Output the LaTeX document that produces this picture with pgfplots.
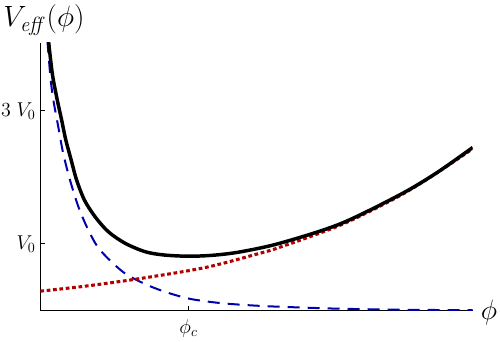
\RequirePackage{fix-cm}
\documentclass[border=0pt]{standalone}
\usepackage{pgfplots}
\pgfplotsset{compat=1.18}

\definecolor{potblue}{rgb}{0.0,0.0,0.68}
\definecolor{potred}{rgb}{0.70,0.0,0.0}

\begin{document}
\begin{tikzpicture}
	\begin{axis}[
	scale only axis,
	width=324.3pt,
	height=200.6pt,
	xmin=0, xmax=1,
	ymin=0, ymax=4.02,
	axis x line=bottom,
	axis y line=left,
	axis line style={-, line width=0.8pt},
	tick align=inside,
	major tick length=3.5pt,
	tick style={black, line width=0.7pt},
	xtick={0.343},
	xticklabels={$\phi_c$},
	ytick={1,3},
	yticklabels={$V_0$, $3\;V_0$},
	tick label style={font=\fontsize{15}{17}\selectfont},
	xticklabel style={yshift=-3pt},
	clip mode=individual,
	]
	% dashed: falling part
	\addplot[color=potblue, line width=1.5pt, dash pattern=on 9pt off 6pt, smooth]
	coordinates {
		(0.0165,4.05)(0.0235,3.5)(0.030,3.17)(0.0416,2.76)(0.053,2.36)(0.0687,1.96)
		(0.088,1.56)(0.111,1.21)(0.138,0.91)(0.191,0.58)(0.238,0.41)(0.284,0.29)
		(0.342,0.18)(0.404,0.12)(0.462,0.087)(0.527,0.063)(0.60,0.045)(0.70,0.025)
		(0.85,0.01)(1.0,0.004)
	};
	% dotted: rising part
	\addplot[color=potred, line width=2.3pt, dash pattern=on 2.8pt off 2pt, smooth]
	coordinates {
		(0,0.29)(0.110,0.37)(0.241,0.49)(0.385,0.65)(0.508,0.86)(0.554,0.95)
		(0.693,1.28)(0.816,1.67)(0.894,1.97)(1.0,2.43)
	};
	% solid: total
	\addplot[color=black, line width=2.6pt, smooth]
	coordinates {
		(0.019,4.05)(0.028,3.55)(0.039,3.17)(0.0494,2.86)(0.0587,2.57)(0.071,2.27)
		(0.084,1.96)(0.102,1.66)(0.1265,1.41)(0.157,1.185)(0.196,1.01)(0.242,0.884)
		(0.284,0.835)(0.342,0.815)(0.40,0.83)(0.462,0.88)(0.554,1.01)(0.693,1.30)
		(0.832,1.74)(0.917,2.07)(1.0,2.45)
	};
	\node[anchor=west, inner sep=0pt] at (rel axis cs:-0.086,1.086)
		{\fontsize{22}{26}\selectfont $V_{\mathit{eff}}(\phi)$};
	\node[inner sep=0pt] at (rel axis cs:1.0377,-0.0093)
		{\fontsize{21}{25}\selectfont $\phi$};
	\coordinate (bl) at (rel axis cs:-0.0932,-0.1178);
	\coordinate (tr) at (rel axis cs:1.0631,1.1607);
	\end{axis}
	\pgfresetboundingbox
	\useasboundingbox (bl) rectangle (tr);
\end{tikzpicture}
\end{document}
